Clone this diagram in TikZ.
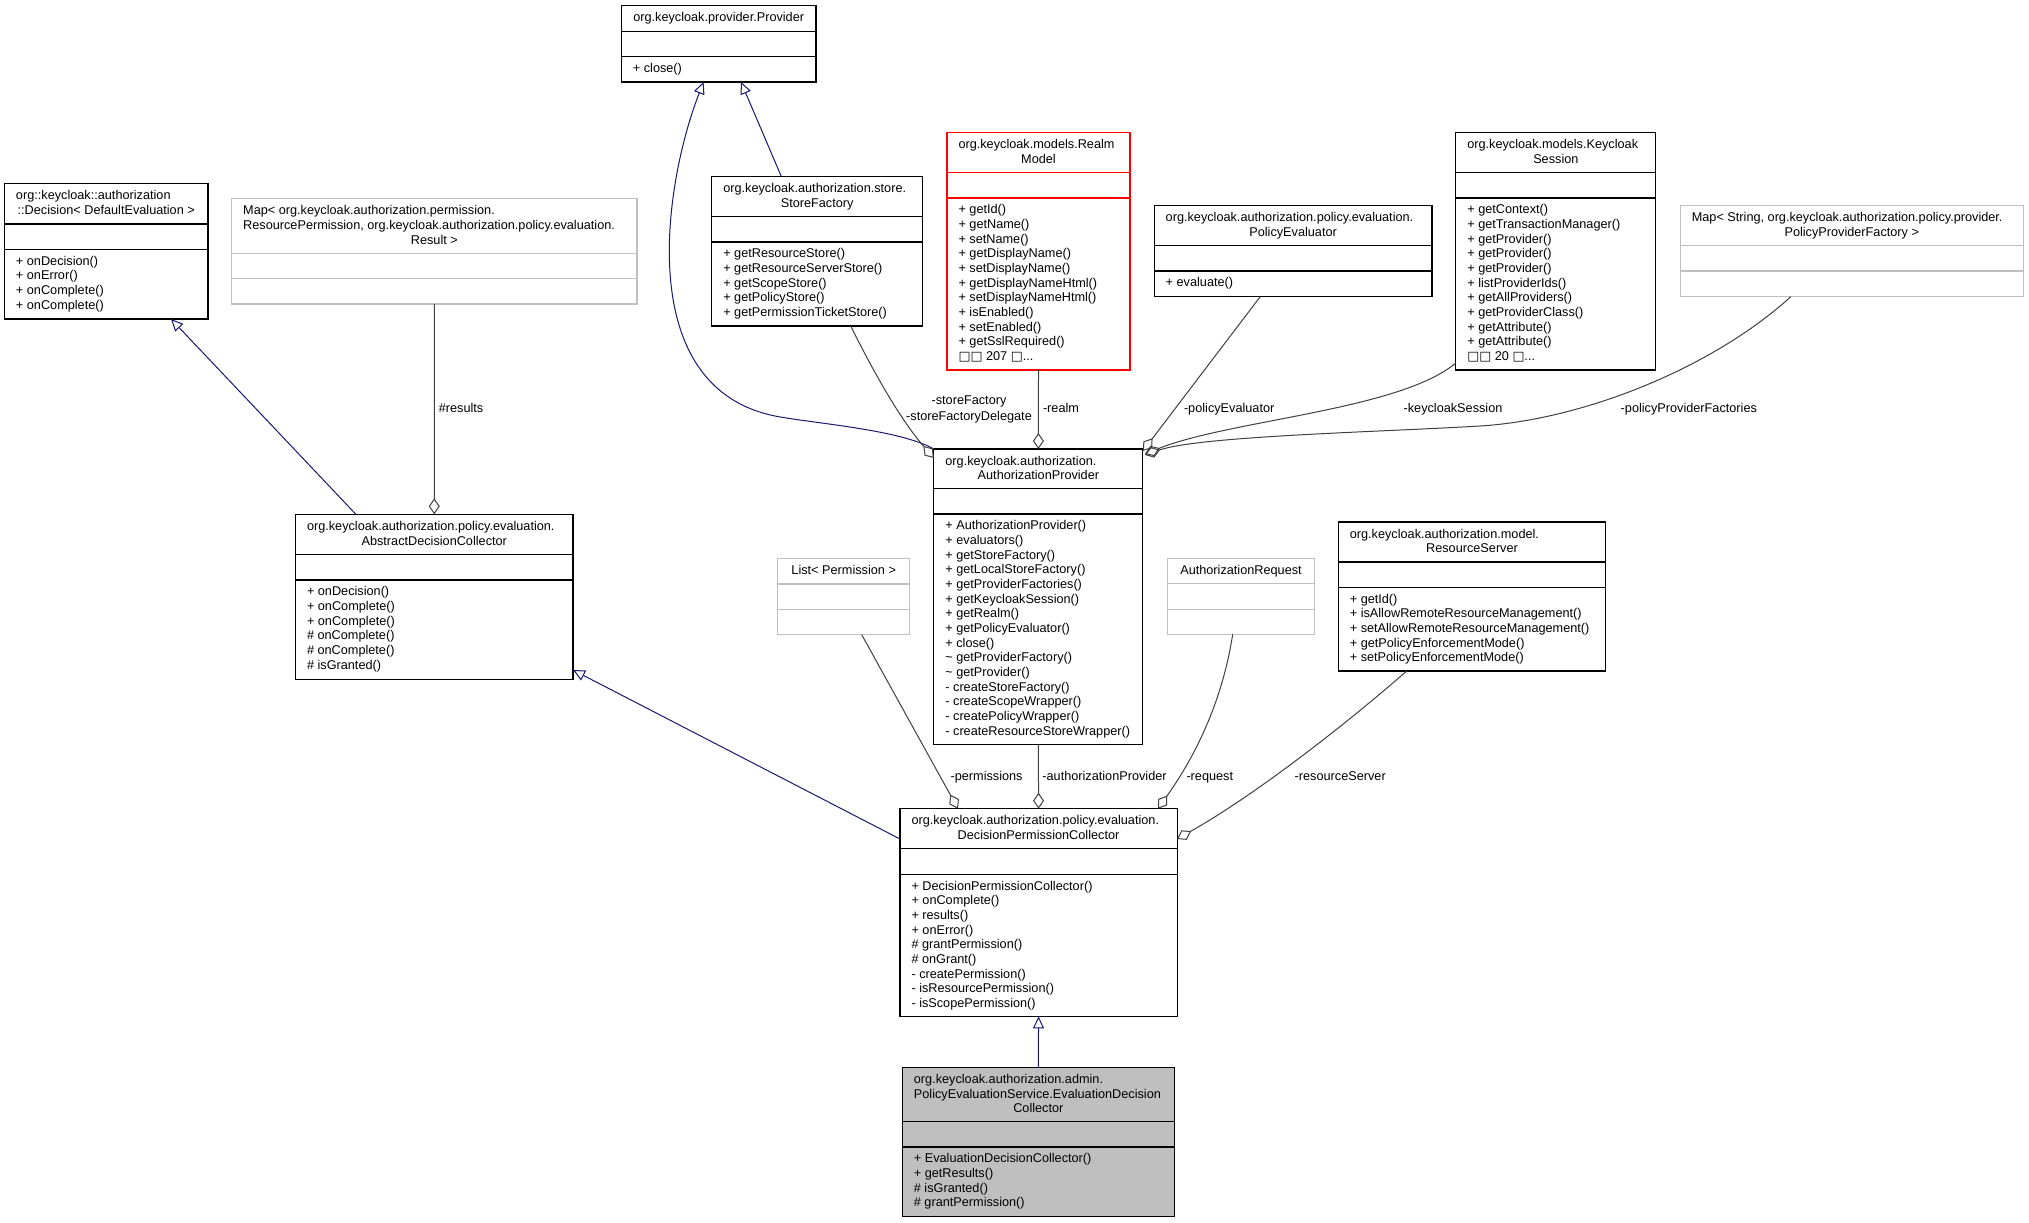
\documentclass[tikz,border=0pt]{standalone}
\usepackage{fontspec}
\setmainfont{Liberation Sans}
\newfontfamily\djv{DejaVu Sans}
\usetikzlibrary{arrows.meta,calc}
\definecolor{navyline}{HTML}{191970}
\definecolor{usegray}{HTML}{404040}
\definecolor{boxgray}{HTML}{BFBFBF}
% #1 name, #2 style, #3 x1, #4 y1, #5 x2, #6 y2, #7 divider 1, #8 divider 2
\newcommand\cls[8]{%
  \node[#2, anchor=north west, minimum width={#5-#3}, minimum height={#6-#4}] (#1) at (#3,#4) {};
  \draw[#2] (#3,#7) -- (#5,#7) (#3,#8) -- (#5,#8);
}
% #1 name prefix, #2 x, #3 first baseline, #4 list
\newcommand\meths[4]{%
  \foreach \t [count=\i from 0] in {#4} {\node[txt, anchor=base west] (#1-\i) at (#2, #3+14.67*\i) {\t};}
}
\begin{document}
\begin{tikzpicture}[x=1pt,y=-1pt,
  every node/.style={inner sep=0pt, outer sep=0pt},
  txt/.style={font=\fontsize{12.7}{14.67}\selectfont, text=black},
  blkbox/.style={draw=black, line width=1.1pt, fill=white},
  grybox/.style={draw=boxgray, line width=1.1pt, fill=white},
  redbox/.style={draw=red, line width=1.1pt, fill=white},
  curbox/.style={draw=black, line width=1.1pt, fill=boxgray},
  inh/.style={draw=navyline, line width=1pt, -{Triangle[open,length=12pt,width=11pt]}},
  agg/.style={draw=usegray, line width=1pt, -{Diamond[open,length=16pt,width=11pt]}}
]
\fill[white] (0,0) rectangle (2029,1223);
\useasboundingbox (0,0) rectangle (2029,1223);

% ---------- boxes ----------
\cls{prov}{blkbox}{621.4}{5.7}{816}{82}{31.7}{56.7}
\node[txt, anchor=base] (provt) at (718.7,21.9) {org.keycloak.provider.Provider};
\meths{provm}{632.9}{72.5}{+ close()}

\cls{sf}{blkbox}{711.8}{176.7}{922.5}{326}{216.7}{242}
\node[txt, anchor=base west] (sft1) at (723.3,192.9) {org.keycloak.authorization.store.};
\node[txt, anchor=base] (sft2) at (817.15,207.6) {StoreFactory};
\meths{sfm}{723.3}{257.8}{+ getResourceStore(), + getResourceServerStore(), + getScopeStore(), + getPolicyStore(), + getPermissionTicketStore()}

\cls{rm}{redbox}{947}{132.7}{1130}{370}{172.7}{198}
\node[txt, anchor=base west] (rmt1) at (958.5,148.9) {org.keycloak.models.Realm};
\node[txt, anchor=base] (rmt2) at (1038.5,163.6) {Model};
\meths{rmm}{958.5}{213.8}{+ getId(), + getName(), + setName(), + getDisplayName(), + setDisplayName(), + getDisplayNameHtml(), + setDisplayNameHtml(), + isEnabled(), + setEnabled(), + getSslRequired()}
\node[txt, anchor=base west] (rmmore) at (958.5,360.5) {{\djv □□} 207 {\djv □}...};

\cls{ks}{blkbox}{1455.8}{132.3}{1655.9}{370}{172.3}{198}
\node[txt, anchor=base west] (kst1) at (1467.3,148.5) {org.keycloak.models.Keycloak};
\node[txt, anchor=base] (kst2) at (1555.85,163.2) {Session};
\meths{ksm}{1467.3}{213.8}{+ getContext(), + getTransactionManager(), + getProvider(), + getProvider(), + getProvider(), + listProviderIds(), + getAllProviders(), + getProviderClass(), + getAttribute(), + getAttribute()}
\node[txt, anchor=base west] (ksmore) at (1467.3,360.5) {{\djv □□} 20 {\djv □}...};

\cls{pe}{blkbox}{1154.2}{205.3}{1432}{296.7}{245.7}{271}
\node[txt, anchor=base west] (pet1) at (1165.7,221.5) {org.keycloak.authorization.policy.evaluation.};
\node[txt, anchor=base] (pet2) at (1293.1,236.2) {PolicyEvaluator};
\meths{pem}{1165.7}{286.8}{+ evaluate()}

\cls{mtwo}{grybox}{1680.3}{205.3}{2023.2}{296.7}{245.7}{271}
\node[txt, anchor=base west] (mtwot1) at (1691.8,221.5) {Map< String, org.keycloak.authorization.policy.provider.};
\node[txt, anchor=base] (mtwot2) at (1851.75,236.2) {PolicyProviderFactory >};

\cls{dec}{blkbox}{4.5}{183.3}{208}{319}{224}{249.3}
\node[txt, anchor=base west] (dect1) at (16,199.5) {org::keycloak::authorization};
\node[txt, anchor=base] (dect2) at (106.25,214.2) {::Decision< DefaultEvaluation >};
\meths{decm}{16}{265.1}{+ onDecision(), + onError(), + onComplete(), + onComplete()}

\cls{mone}{grybox}{231.7}{198.7}{637}{304}{253.3}{278.3}
\node[txt, anchor=base west] (monet1) at (243.2,214.9) {Map< org.keycloak.authorization.permission.};
\node[txt, anchor=base west] (monet2) at (243.2,229.6) {ResourcePermission, org.keycloak.authorization.policy.evaluation.};
\node[txt, anchor=base] (monet3) at (434.35,244.2) {Result >};

\cls{adc}{blkbox}{295.5}{514.3}{573}{679.3}{554.3}{580}
\node[txt, anchor=base west] (adct1) at (307,530.5) {org.keycloak.authorization.policy.evaluation.};
\node[txt, anchor=base] (adct2) at (434.25,545.2) {AbstractDecisionCollector};
\meths{adcm}{307}{595.8}{+ onDecision(), + onComplete(), + onComplete(), \# onComplete(), \# onComplete(), \# isGranted()}

\cls{lst}{grybox}{777.6}{558.7}{909.8}{634.7}{584}{609.3}
\node[txt, anchor=base] (lstt) at (843.7,574.9) {List< Permission >};

\cls{ap}{blkbox}{933.9}{449}{1142.9}{744.3}{488.7}{514}
\node[txt, anchor=base west] (apt1) at (945.4,465.2) {org.keycloak.authorization.};
\node[txt, anchor=base] (apt2) at (1038.4,479.9) {AuthorizationProvider};
\meths{apm}{945.4}{529.8}{+ AuthorizationProvider(), + evaluators(), + getStoreFactory(), + getLocalStoreFactory(), + getProviderFactories(), + getKeycloakSession(), + getRealm(), + getPolicyEvaluator(), + close(), \textasciitilde{} getProviderFactory(), \textasciitilde{} getProvider(), - createStoreFactory(), - createScopeWrapper(), - createPolicyWrapper(), - createResourceStoreWrapper()}

\cls{ar}{grybox}{1167.3}{558.7}{1314.7}{634.3}{583.3}{609.3}
\node[txt, anchor=base] (art) at (1241,574.9) {AuthorizationRequest};

\cls{rs}{blkbox}{1338.7}{522}{1605.3}{671}{562}{587.3}
\node[txt, anchor=base west] (rst1) at (1349.8,538.2) {org.keycloak.authorization.model.};
\node[txt, anchor=base] (rst2) at (1472,552.9) {ResourceServer};
\meths{rsm}{1349.8}{603.1}{+ getId(), + isAllowRemoteResourceManagement(), + setAllowRemoteResourceManagement(), + getPolicyEnforcementMode(), + setPolicyEnforcementMode()}

\cls{dpc}{blkbox}{900}{808.7}{1177.1}{1016.3}{848.3}{874.3}
\node[txt, anchor=base west] (dpct1) at (911.5,824.9) {org.keycloak.authorization.policy.evaluation.};
\node[txt, anchor=base] (dpct2) at (1038.55,839.6) {DecisionPermissionCollector};
\meths{dpcm}{911.5}{890.1}{+ DecisionPermissionCollector(), + onComplete(), + results(), + onError(), \# grantPermission(), \# onGrant(), - createPermission(), - isResourcePermission(), - isScopePermission()}

\cls{edc}{curbox}{902.4}{1067.3}{1174.3}{1216.7}{1121.7}{1147}
\node[txt, anchor=base west] (edct1) at (913.9,1083.5) {org.keycloak.authorization.admin.};
\node[txt, anchor=base west] (edct2) at (913.9,1098.2) {PolicyEvaluationService.EvaluationDecision};
\node[txt, anchor=base] (edct3) at (1038.35,1112.8) {Collector};
\meths{edcm}{913.9}{1162.8}{+ EvaluationDecisionCollector(), + getResults(), \# isGranted(), \# grantPermission()}

% ---------- inheritance ----------
\draw[inh] (ap.north west) .. controls (900,430) and (820,424) .. (778.6,416.7)
  .. controls (630,390) and (665,180) .. ($(prov.south west)+(82.2,0)$);
\draw[inh] ($(sf.north west)+(69.6,0)$) -- ($(prov.south west)+(119.6,0)$);
\draw[inh] ($(adc.north west)+(60.4,0)$) -- ($(dec.south west)+(166.5,0)$);
\draw[inh] ($(dpc.north west)+(0,30.3)$) -- ($(adc.south east)+(0,-9.3)$);
\draw[inh] (edc.north) -- (dpc.south);

% ---------- usage ----------
\draw[agg] ($(sf.south west)+(138.9,0)$) .. controls (880,385) and (905,425) .. ($(ap.north west)+(0,9)$);
\draw[agg] (rm.south) -- (ap.north);
\draw[agg] ($(pe.south west)+(106,0)$) -- ($(ap.north east)+(0,2)$);
\draw[agg] ($(ks.south west)+(0,-7)$) .. controls (1400,410) and (1230,420) .. ($(ap.north east)+(2,5)$);
\draw[agg] ($(mtwo.south west)+(110.5,0)$) .. controls (1710,370) and (1580,420) .. (1480,426)
  .. controls (1380,432) and (1200,436) .. ($(ap.north east)+(2,6)$);
\draw[agg] (mone.south) -- (adc.north);
\draw[agg] ($(lst.south)+(18,0)$) -- ($(dpc.north west)+(58,0)$);
\draw[agg] (ap.south) -- (dpc.north);
\draw[agg] ($(ar.south)+(-8.3,0)$) .. controls (1224,690) and (1203,745) .. ($(dpc.north east)+(-19.1,0)$);
\draw[agg] ($(rs.south)+(-65.3,0)$) .. controls (1345,725) and (1255,795) .. ($(dpc.north east)+(0,30.3)$);

% ---------- labels ----------
\node[txt, anchor=base west] (lres) at (438.8,412.8) {\#results};
\node[txt, anchor=base] (lsf1) at (969,404.5) {-storeFactory};
\node[txt, anchor=base] (lsf2) at (969,420.2) {-storeFactoryDelegate};
\node[txt, anchor=base west] (lrealm) at (1043,412.8) {-realm};
\node[txt, anchor=base west] (lpe) at (1184,412.8) {-policyEvaluator};
\node[txt, anchor=base west] (lks) at (1403.6,412.8) {-keycloakSession};
\node[txt, anchor=base west] (lppf) at (1620.7,412.8) {-policyProviderFactories};
\node[txt, anchor=base west] (lperm) at (950.6,780.2) {-permissions};
\node[txt, anchor=base west] (lap) at (1042.4,780.2) {-authorizationProvider};
\node[txt, anchor=base west] (lreq) at (1186.5,780.2) {-request};
\node[txt, anchor=base west] (lrs) at (1294.7,780.2) {-resourceServer};
\end{tikzpicture}
\end{document}
